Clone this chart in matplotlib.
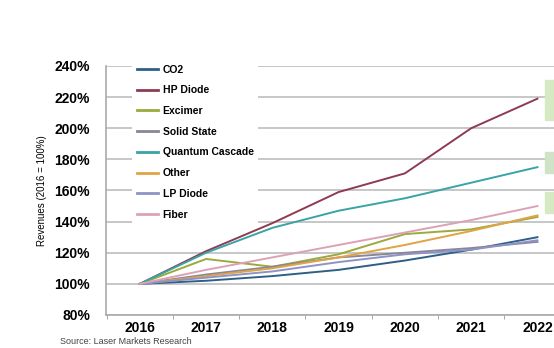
import matplotlib.pyplot as plt
from matplotlib.patches import Rectangle

plt.rcParams['font.family'] = ['Liberation Sans', 'DejaVu Sans']

anos = ['2016', '2017', '2018', '2019', '2020', '2021', '2022']

series = ['CO2', 'HP Diode', 'Excimer', 'Solid State', 'Quantum Cascade',
          'Other', 'LP Diode', 'Fiber']
co2 = [100, 102, 105, 109, 115, 122, 130]
hp_diode = [100, 121, 139, 159, 171, 200, 219]
excimer = [100, 116, 111, 119, 132, 135, 143]
solid_state = [100, 106, 111, 117, 120, 123, 127]
quantum_cascade = [100, 120, 136, 147, 155, 165, 175]
other = [100, 105, 110, 117, 125, 134, 144]
lp_diode = [100, 104, 108, 114, 119, 122, 128]
fiber = [100, 109, 117, 125, 133, 141, 150]

valores = [co2, hp_diode, excimer, solid_state, quantum_cascade, other, lp_diode, fiber]
cores = ['#2e5f86', '#8e3b52', '#9aaa3c', '#8a8598', '#3aa3a6',
         '#e0a444', '#8d93c6', '#dba2b6']

fig = plt.figure(figsize=(5.54, 3.48), dpi=100)
ax = fig.add_axes([106 / 554, 33 / 348, 448 / 554, 249 / 348])

x = list(range(len(anos)))
for nome, vals, cor in zip(series, valores, cores):
    ax.plot(x, vals, color=cor, linewidth=1.4, label=nome, zorder=3)

ax.set_xlim(-0.51, 6.25)
ax.set_ylim(80, 240)
ax.set_yticks(range(80, 241, 20))
ax.set_yticklabels([f'{v}%' for v in range(80, 241, 20)], fontsize=10, fontweight='bold')
ax.set_xticks(x)
ax.set_xticklabels(anos, fontsize=10, fontweight='bold')
ax.set_xticks([i + 0.5 for i in range(-1, 6)], minor=True)
ax.tick_params(axis='x', which='major', length=0, pad=4)
ax.tick_params(axis='x', which='minor', length=3, color='#999999')
ax.tick_params(axis='y', length=0, pad=11.5)

ax.grid(True, axis='y', color='#bdbdbd', linewidth=1.2, zorder=0)
for lado in ['top', 'right']:
    ax.spines[lado].set_visible(False)
ax.spines['left'].set_color('#aaaaaa')
ax.spines['bottom'].set_color('#aaaaaa')
ax.spines['left'].set_linewidth(1.2)
ax.spines['bottom'].set_linewidth(1.2)

ax.set_ylabel('Revenues (2016 = 100%)', fontsize=7, labelpad=5)

leg = ax.legend(loc='upper left', bbox_to_anchor=(0.052, 1.035), frameon=True,
                fancybox=False, edgecolor='none', facecolor='white', framealpha=1,
                prop={'size': 7.5, 'weight': 'bold'}, handlelength=2.1,
                labelspacing=1.03, borderpad=0.4, handletextpad=0.4, borderaxespad=0.3)
leg.set_zorder(4)
for linha in leg.get_lines():
    linha.set_linewidth(2)

# caixas verdes cortadas na borda direita
for y0, y1, cor in [(80, 120, '#d5eac3'), (152, 173, '#cfe4c6'), (192, 213, '#d5eac3')]:
    fig.patches.append(Rectangle((545 / 554, 1 - y1 / 348), 10 / 554, (y1 - y0) / 348,
                                 transform=fig.transFigure, color=cor, zorder=5))

fig.text(60 / 554, 1 - 342 / 348, 'Source: Laser Markets Research', fontsize=6.5,
         color='#444444', va='center')

plt.savefig('out.png', dpi=100)
